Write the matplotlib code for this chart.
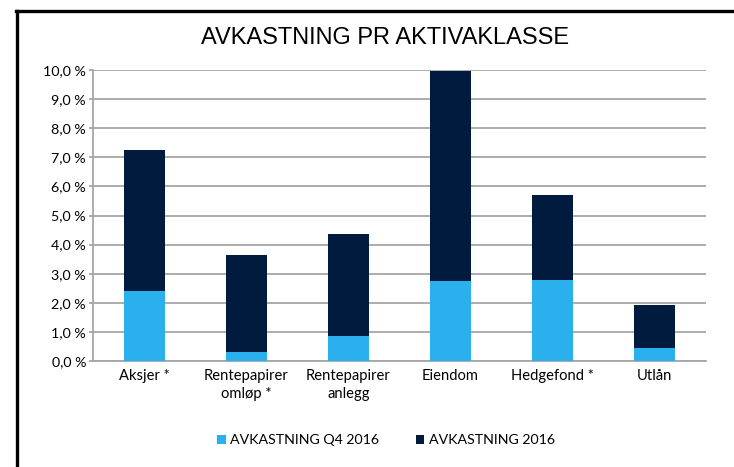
import matplotlib
matplotlib.use("Agg")
import matplotlib.pyplot as plt
from matplotlib.lines import Line2D
from matplotlib.ticker import FuncFormatter, MultipleLocator

categories = ["Aksjer *", "Rentepapirer\nomløp *", "Rentepapirer\nanlegg", "Eiendom", "Hedgefond *", "Utlån"]
q4_2016 = [2.41, 0.30, 0.85, 2.75, 2.80, 0.46]
aar_2016 = [7.25, 3.64, 4.38, 9.95, 5.72, 1.94]
series_labels = ["AVKASTNING Q4 2016", "AVKASTNING 2016"]

light = "#2AB0EC"
dark = "#001B3D"

W, H = 734, 467
fig = plt.figure(figsize=(W / 100, H / 100), dpi=100)
ax = fig.add_axes([93 / W, 1 - 361 / H, 613 / W, 291 / H])

x = list(range(len(categories)))
b2 = ax.bar(x, aar_2016, width=0.40, color=dark, zorder=3, label=series_labels[1])
b1 = ax.bar(x, q4_2016, width=0.40, color=light, zorder=4, label=series_labels[0])

ax.set_xlim(-0.5, len(categories) - 0.5)
ax.set_ylim(0, 10)
ax.yaxis.set_major_locator(MultipleLocator(1))
ax.yaxis.set_major_formatter(FuncFormatter(lambda v, p: f"{v:.1f}".replace(".", ",") + " %"))
ax.grid(axis="y", color="#A6A6A6", linewidth=1.3, zorder=0)
for s in ["top", "right"]:
    ax.spines[s].set_visible(False)
ax.spines["left"].set_color("#A6A6A6")
ax.spines["left"].set_linewidth(1.3)
ax.spines["bottom"].set_color("#A6A6A6")
ax.spines["bottom"].set_linewidth(1.3)
ax.tick_params(axis="y", length=3, width=1.3, color="#A6A6A6", labelsize=10.3, pad=2)
ax.tick_params(axis="x", length=0, labelsize=10.6, pad=6)
ax.set_xticks(x)
ax.set_xticklabels(categories, fontfamily="Lato", linespacing=1.35)
for lab in ax.get_yticklabels():
    lab.set_fontfamily("Lato")

fig.text(385 / W, 1 - 38 / H, "AVKASTNING PR AKTIVAKLASSE", ha="center", va="center",
         fontsize=17, fontfamily="Liberation Sans")

leg = fig.legend(handles=[b1, b2], labels=series_labels, loc="center", ncol=2,
                 bbox_to_anchor=(386 / W, 1 - 440 / H), frameon=False,
                 prop={"family": "Lato", "size": 10.2}, handlelength=0.6, handleheight=0.6,
                 handletextpad=0.3, columnspacing=2.6)

fig.add_artist(Line2D([16 / W, 1], [1 - 10.5 / H, 1 - 10.5 / H], color="black", lw=2.4))
fig.add_artist(Line2D([16.5 / W, 16.5 / W], [0, 1 - 10.5 / H], color="black", lw=2.4))

fig.savefig("out.png", dpi=100)
